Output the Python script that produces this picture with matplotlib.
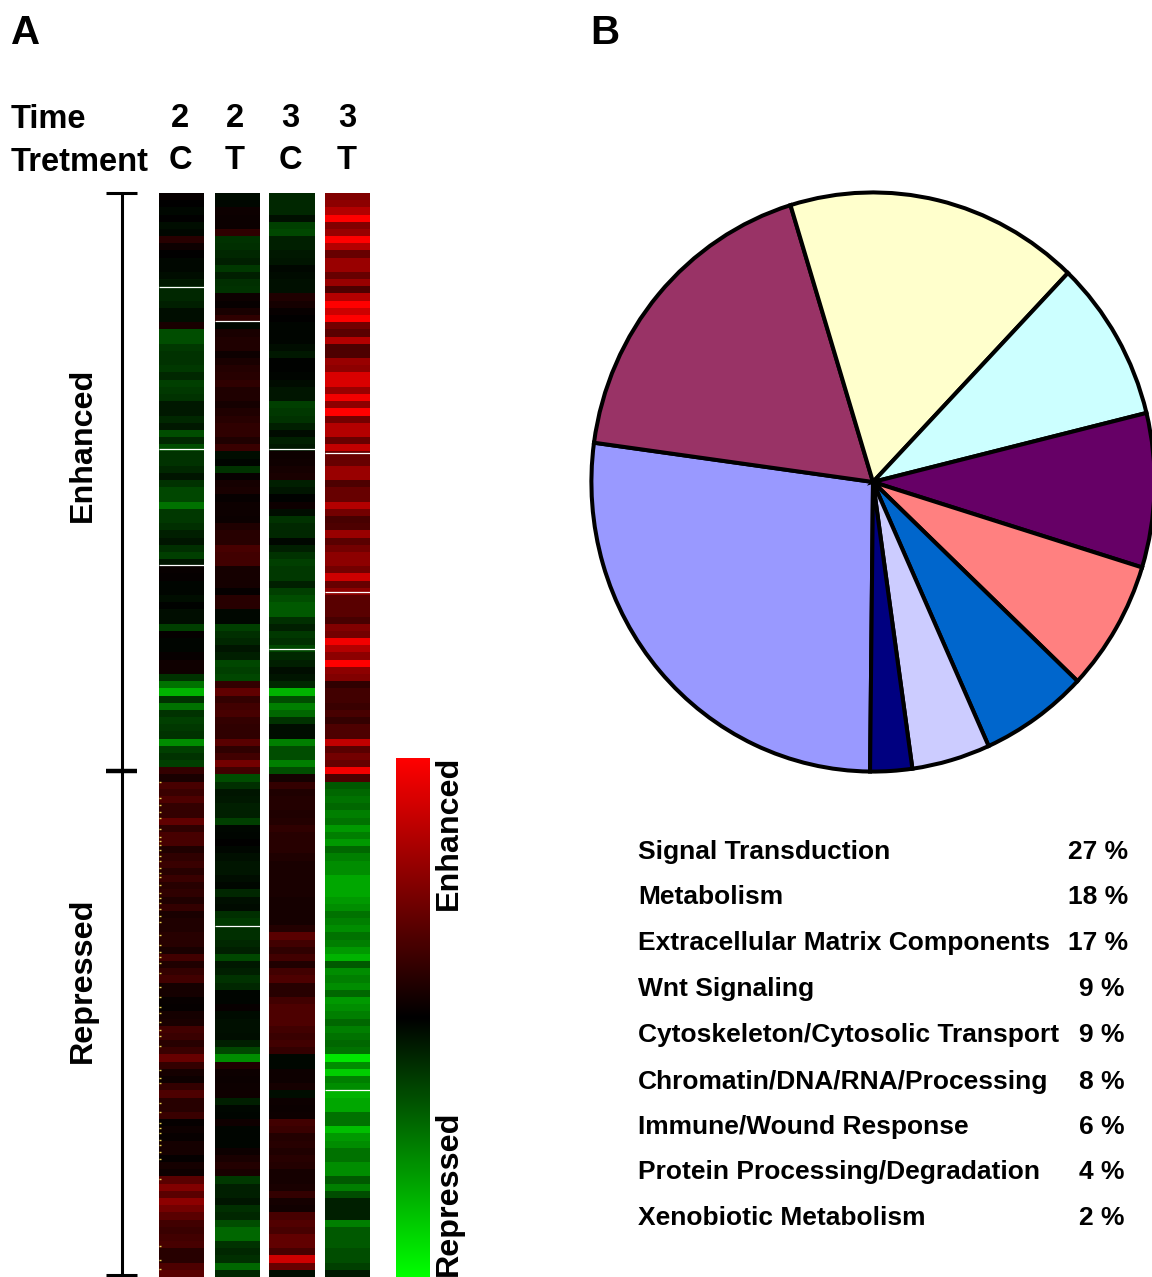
import numpy as np
import matplotlib
matplotlib.use("Agg")
import matplotlib.pyplot as plt
from matplotlib.colors import LinearSegmentedColormap

plt.rcParams['font.family'] = ['Liberation Sans', 'DejaVu Sans']

#heatmap values, top to bottom, -100 green, 0 black, 100 red
col_2c = [3, 0, -3, 0, -5, -3, 15, 5, 0, -3, -3, -5, -10, -15, -15, -12, -5, -5, 10, -30, -30, -22, -20, -20, -22, -15, -25, -22, -20, -10, -10, -15, -10, -30, -15, -30, -20, -20, -15, -8, -20,
          -28, -28, -45, -22, -22, -18, -12, -8, -18, -25, -8, 3, 2, -2, -2, -5, -1, -5, -5, -25, 2, -2, -2, 3, 6, 6, -20, -45, -70, -20, -45, -20, -25, -22, -20, -55, -25, -20, -25, 20, 10,
          28, 22, 30, 20, 20, 38, 18, 28, 28, 12, 18, 22, 15, 22, 15, 18, 12, 20, 10, 12, 12, 15, 15, 10, 25, 12, 20, 25, 8, 8, 3, 2, 8, 10, 25,
          22, 15, 22, 40, 20, 8, 5, 20, 30, 15, 15, 22, 2, 5, 3, 8, 8, 2, 8, 5, 35, 50, 35, 55, 45, 35, 25, 22, 25, 28, 15, 15, 30, 35]
col_2t = [-4, -3, 5, 4, 4, 18, -20, -18, -15, -12, -22, -12, -18, -20, 5, 3, 10, 18, -3, 10, 12, 12, 5, 10, 14, 15, 18, 12, 12, 8, 12, 15, 18, 18, 12, 22, -5, -2, -20, 3, 8,
          10, 3, 5, 5, 4, 12, 15, 15, 28, 25, 25, 8, 8, 8, 2, 15, 15, -3, -3, -25, -18, -15, -8, -12, -28, -25, -28, 20, 38, 20, 25, 28, 20, 18, 18, 35, 18, 25, 45, 25, -30,
          -18, -8, -10, -12, -12, -25, -3, -2, 0, -3, -6, -8, -8, -5, -3, -15, -6, -4, -18, -22, -18, -18, -15, -12, -28, -10, -12, -20, -15, -2, -2, 3, -4, -6, -6,
          -5, -12, -28, -55, 12, 5, 4, 5, 6, -12, -3, -2, 6, -2, -2, -2, 5, 10, 14, 10, -22, -12, -12, -8, -18, -15, -30, -40, -40, -20, -15, -18, -40, -15]
col_3c = [-15, -15, -15, -6, -25, -28, -12, -12, -10, -8, -3, -4, -6, -6, 12, 8, 3, 0, -2, -2, -2, -5, -10, -1, -1, -2, -4, -8, -8, -25, -22, -20, -12, -4, -12, -10, 5, 6, 8, 10, -12,
          -8, -1, 5, -5, -20, -16, -15, -3, -12, -20, -25, -22, -22, -12, -25, -30, -35, -35, -18, -12, -22, -18, -28, -15, -12, -5, -8, -15, -70, -30, -50, -40, -20, -5, -5, -50, -30, -30, -50, -30, 8,
          20, 12, 14, 14, 12, 14, 18, 15, 15, 15, 12, 10, 10, 10, 10, 10, 8, 8, 8, 8, 14, 35, 25, 18, 25, 12, 25, 30, 15, 15, 25, 30, 30, 30, 25,
          22, 25, 20, -3, -3, 5, 5, 8, -5, 5, 4, 5, 25, 22, 14, 15, 12, 15, 14, 8, 8, 10, 20, 8, 7, 28, 32, 28, 38, 38, 28, 80, 40, -5]
col_3t = [50, 55, 70, 100, 50, 60, 100, 70, 40, 60, 60, 40, 60, 30, 70, 100, 80, 100, 45, 35, 70, 30, 30, 60, 55, 85, 85, 60, 95, 55, 100, 45, 70, 70, 40, 75, 40, 40, 60, 60, 30,
          40, 40, 70, 45, 28, 30, 60, 35, 45, 55, 55, 45, 80, 40, 55, 35, 35, 35, 28, 50, 45, 95, 70, 55, 100, 55, 50, 18, 25, 25, 22, 28, 20, 30, 30, 75, 35, 45, 40, 95, 30,
          -35, -40, -45, -40, -50, -45, -60, -50, -60, -40, -50, -55, -55, -65, -65, -65, -60, -55, -45, -50, -55, -45, -50, -60, -70, -35, -55, -50, -55, -40, -60, -55, -50, -40, -50,
          -45, -40, -45, -90, -55, -80, -50, -55, -70, -65, -65, -45, -45, -75, -60, -55, -45, -45, -55, -55, -35, -50, -30, -12, -12, -12, -50, -35, -35, -35, -30, -30, -25, -10]
columns = [col_2c, col_2t, col_3c, col_3t]
time_labels = ['2', '2', '3', '3']
treatment_labels = ['C', 'T', 'C', 'T']

#pie slices, clockwise from the bottom
categories = ['Signal Transduction', 'Metabolism', 'Extracellular Matrix Components',
              'Wnt Signaling', 'Cytoskeleton/Cytosolic Transport', 'Chromatin/DNA/RNA/Processing',
              'Immune/Wound Response', 'Protein Processing/Degradation', 'Xenobiotic Metabolism']
percents = [27, 18, 17, 9, 9, 8, 6, 4, 2]
#slice sizes as drawn in the picture, a bit off the rounded labels
slice_sizes = [27.0, 18.1, 16.9, 9.0, 8.6, 7.3, 6.2, 4.5, 2.4]
pie_colors = ['#9999FF', '#993366', '#FFFFCC', '#CCFFFF', '#660066', '#FF8080', '#0066CC', '#CCCCFF', '#000080']

for c in columns:
    assert len(c) == 151, len(c)

fig = plt.figure(figsize=(11.52, 12.77), dpi=100)
ax = fig.add_axes([0, 0, 1, 1])
cmap = LinearSegmentedColormap.from_list('gkr', ['#00FF00', '#000000', '#FF0000'])

#heatmap columns
col_x = [(159, 204), (215, 260), (269, 315), (325, 370)]
for (x0, x1), col in zip(col_x, columns):
    ax.imshow(np.array(col).reshape(-1, 1), cmap=cmap, vmin=-100, vmax=100, aspect='auto',
              interpolation='nearest', extent=(x0, x1, 1277, 193))

#white gaps between clusters
gaps = {0: [287, 449, 565], 1: [321, 926], 2: [449, 649], 3: [453, 592, 1090]}
for i, ys in gaps.items():
    ax.hlines(ys, col_x[i][0], col_x[i][1], color='white', lw=0.9)

#yellow specks on the left edge of the first column
specks = [782, 798, 805, 812, 818, 829, 837, 841, 845, 850, 856, 861, 868, 873, 877, 885, 893, 898, 903, 909,
          916, 922, 935, 945, 952, 957, 963, 973, 987, 997, 1007, 1013, 1022, 1030, 1036, 1046, 1070, 1078,
          1083, 1103, 1112, 1123, 1128, 1133, 1140, 1145, 1152, 1159, 1179, 1246, 1260, 1269]
ax.hlines(specks, 159, 160.5, color='#E8CF50', lw=1)

#colour key
ax.imshow(np.linspace(100, -100, 256).reshape(-1, 1), cmap=cmap, vmin=-100, vmax=100, aspect='auto',
          extent=(396, 430, 1277, 758))

ax.set_xlim(0, 1152)
ax.set_ylim(1277, 0)
ax.axis('off')

#bracket
ax.plot([122, 122], [193, 1275], color='black', lw=2.2, solid_capstyle='butt')
ax.plot([106, 137], [193, 193], color='black', lw=2.2, solid_capstyle='butt')
ax.plot([106, 137], [771, 771], color='black', lw=3.2, solid_capstyle='butt')
ax.plot([106, 137], [1275, 1275], color='black', lw=2.2, solid_capstyle='butt')

#text
ax.text(11, 44, 'A', fontsize=29, fontweight='bold', va='baseline')
ax.text(590, 44, 'B', fontsize=29, fontweight='bold', va='baseline')
ax.text(11, 128, 'Time', fontsize=23.5, fontweight='bold', va='baseline')
ax.text(11, 171, 'Tretment', fontsize=23.5, fontweight='bold', va='baseline')
for x, t, tr in zip([180, 235, 290, 347], time_labels, treatment_labels):
    ax.text(x, 127, t, fontsize=23.5, fontweight='bold', ha='center', va='baseline')
    ax.text(x, 169, tr, fontsize=23.5, fontweight='bold', ha='center', va='baseline')
ax.text(83, 445, 'Enhanced', fontsize=23.2, fontweight='bold', rotation=90, ha='center', va='center')
ax.text(83, 980, 'Repressed', fontsize=23.2, fontweight='bold', rotation=90, ha='center', va='center')
ax.text(449, 833, 'Enhanced', fontsize=23.2, fontweight='bold', rotation=90, ha='center', va='center')
ax.text(449, 1193, 'Repressed', fontsize=23.2, fontweight='bold', rotation=90, ha='center', va='center')

#legend table
row_y = [852, 897, 943, 989, 1035, 1082, 1127, 1172, 1218]
for y, name, pct in zip(row_y, categories, percents):
    ax.text(638, y, name, fontsize=19, fontweight='bold', va='center')
    ax.text(1068 if pct > 9 else 1079, y, '%d %%' % pct, fontsize=19, fontweight='bold', va='center')

#pie, slightly taller than wide like the original
pie_ax = fig.add_axes([590 / 1152, 1 - 773 / 1277, 566 / 1152, 582 / 1277])
pie_ax.pie(slice_sizes, colors=pie_colors, startangle=269.4, counterclock=False, radius=1,
           wedgeprops={'edgecolor': 'black', 'linewidth': 2.9})
pie_ax.set_xlim(-1.005, 1.005)
pie_ax.set_ylim(-1.005, 1.005)
pie_ax.set_aspect('auto')

fig.savefig('out.png', dpi=100)
